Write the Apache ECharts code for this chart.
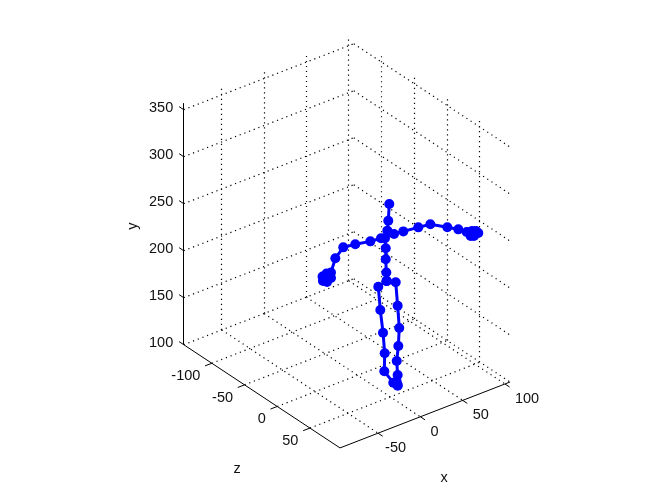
<!DOCTYPE html>
<html><head><meta charset="utf-8">
<style>html,body{margin:0;padding:0;background:#fff}#c{width:672px;height:504px}</style>
<script src="https://cdn.jsdelivr.net/npm/echarts@6/dist/echarts.min.js"></script>
</head><body><div id="c"></div>
<script>
const xTicks = [-50, 0, 50, 100];
const yTicks = [100, 150, 200, 250, 300, 350];
const zTicks = [-100, -50, 0, 50];
const xLim = [-95, 106];
const yLim = [100, 357];
const zLim = [-143, 96];

const armX = [-76, -79.6, -74.8, -70.1, -80.1, -75.4, -70.1, -65, -55.6, -41.4, -23.6, -11, 4.4, 15.4, 33.1, 47.3, 67.4, 80.4, 90.3, 95, 98.9, 104, 101.3, 96.6];
const armY = [253, 251, 248.3, 251, 256.1, 257.6, 256.8, 270.1, 278.5, 276.8, 273.7, 272.6, 271.8, 270.7, 268.8, 267.1, 256.9, 250.2, 243.9, 238, 236.7, 238.1, 241.2, 242.8];
const armZ = [50, 50, 50, 50, 50, 50, 50, 50, 50, 50, 50, 50, 50, 50, 50, 50, 50, 50, 50, 50, 50, 50, 50, 50];
const spineX = [-1.2, -2.4, -3.5, -6.3, -5.4, -5.4, -4.7, -4.3];
const spineY = [305.6, 288.3, 278.1, 271, 260, 248.3, 233.9, 224.8];
const spineZ = [50, 50, 50, 50, 50, 50, 50, 50];
const leftLegX = [-4.3, -14.2, -11.8, -8.6, -6.6, -7.1, 3.5, 8.7];
const leftLegY = [224.8, 222.2, 196.6, 171.3, 148.7, 129.7, 113.9, 109.6];
const leftLegZ = [50, 50, 50, 50, 50, 50, 50, 50];
const rightLegX = [-4.3, 6.4, 8.7, 10.6, 9.5, 7.6, 8.7, 7.6, 8.7];
const rightLegY = [224.8, 219.7, 193.9, 169.6, 150.9, 135.5, 120.2, 113.5, 108.8];
const rightLegZ = [50, 50, 50, 50, 50, 50, 50, 50, 50];

// Orthographic view of the 3-D box, as a MATLAB plot3 camera would give it.
function project(x, y, z) {
  return [357.6 + 0.846 * x + 0.654 * z,
          375.3 - 0.328 * x + 0.432 * z - 0.94 * (y - 100)];
}
function seg(a, b) { return [project(a[0], a[1], a[2]), project(b[0], b[1], b[2])]; }
function snapX(s) { return s.map(p => [Math.floor(p[0]) + 0.5, p[1]]); }

const gridSegs = [];
const [xa, xb] = xLim, [ya, yb] = yLim, [za, zb] = zLim;
xTicks.forEach(x => {
  gridSegs.push(seg([x, ya, za], [x, ya, zb]));
  gridSegs.push(snapX(seg([x, ya, za], [x, yb, za])));
});
zTicks.forEach(z => {
  gridSegs.push(seg([xa, ya, z], [xb, ya, z]));
  gridSegs.push(snapX(seg([xb, ya, z], [xb, yb, z])));
});
yTicks.forEach(y => {
  gridSegs.push(seg([xa, y, za], [xb, y, za]));
  gridSegs.push(seg([xb, y, za], [xb, y, zb]));
});

const axisSegs = [
  seg([xa, ya, zb], [xb, ya, zb]),
  seg([xa, ya, za], [xa, ya, zb]),
  snapX(seg([xa, ya, za], [xa, yb, za]))
];
xTicks.forEach(x => axisSegs.push(seg([x, ya, zb], [x, ya, zb + 7])));
zTicks.forEach(z => axisSegs.push(seg([xa, ya, z], [xa - 8, ya, z])));
yTicks.forEach(y => axisSegs.push(seg([xa, y, za], [xa, y, za - 7])));

const texts = [];
xTicks.forEach(x => { const p = project(x, ya, zb);
  texts.push({ p, t: String(x), dx: x < 0 ? 7 : 10, dy: 15, align: 'left', rot: 0 }); });
zTicks.forEach(z => { const p = project(xa, ya, z);
  texts.push({ p, t: String(z), dx: -11.5, dy: 13, align: 'right', rot: 0 }); });
yTicks.forEach(y => { const p = project(xa, y, za);
  texts.push({ p, t: String(y), dx: -10.5, dy: -2, align: 'right', rot: 0 }); });
texts.push({ p: [444, 478], t: 'x', dx: 0, dy: 0, align: 'center', rot: 0 });
texts.push({ p: [237, 469], t: 'z', dx: 0, dy: 0, align: 'center', rot: 0 });
texts.push({ p: [133, 226], t: 'y', dx: 0, dy: 0, align: 'center', rot: Math.PI / 2 });

function segSeries(list, lineStyle) {
  return list.map(s => ({
    type: 'line', data: s, symbol: 'none', silent: true, clip: false,
    lineStyle, z: 1
  }));
}
function limb(xs, ys, zs) {
  return {
    type: 'line', data: xs.map((x, i) => project(x, ys[i], zs[i])),
    symbol: 'circle', symbolSize: 10, showAllSymbol: true, silent: true, clip: false,
    lineStyle: { color: '#0000ff', width: 3 }, itemStyle: { color: '#0000ff' }, z: 5
  };
}

const chart = echarts.init(document.getElementById('c'));
chart.setOption({
  animation: false,
  backgroundColor: '#ffffff',
  grid: { left: 0, right: 0, top: 0, bottom: 0 },
  xAxis: { type: 'value', min: 0, max: 672, show: false },
  yAxis: { type: 'value', min: 0, max: 504, inverse: true, show: false },
  series: [
    ...segSeries(gridSegs, { color: '#000', width: 1.2, type: [1.2, 3.8] }),
    ...segSeries(axisSegs, { color: '#000', width: 1 }),
    limb(armX, armY, armZ),
    limb(spineX, spineY, spineZ),
    limb(leftLegX, leftLegY, leftLegZ),
    limb(rightLegX, rightLegY, rightLegZ),
    {
      type: 'custom', coordinateSystem: 'cartesian2d', silent: true, clip: false, z: 6,
      data: texts.map((d, i) => [d.p[0], d.p[1], i]),
      renderItem: (params, api) => {
        const d = texts[api.value(2)];
        const c = api.coord([api.value(0), api.value(1)]);
        return {
          type: 'text', x: c[0] + d.dx, y: c[1] + d.dy, rotation: d.rot,
          style: { text: d.t, align: d.align, verticalAlign: 'middle', fill: '#111',
                   font: '14.5px "Liberation Sans", Arial, sans-serif' }
        };
      }
    }
  ]
});
</script></body></html>
